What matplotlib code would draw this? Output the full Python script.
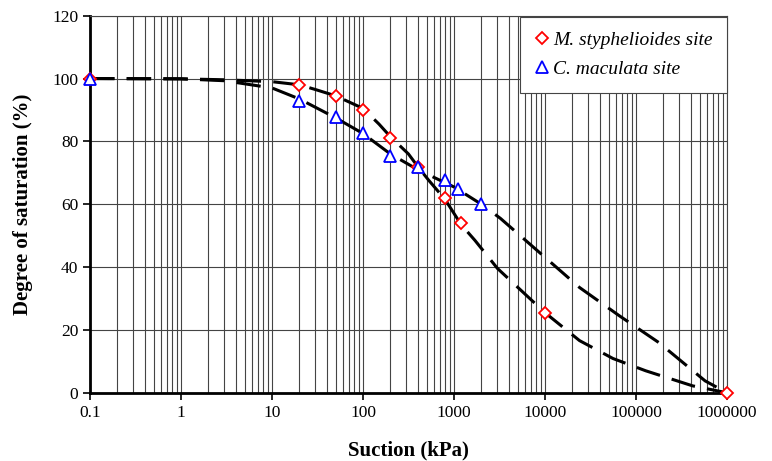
import numpy as np
import matplotlib.pyplot as plt
from matplotlib.ticker import LogLocator, FixedLocator, NullFormatter

plt.rcParams['font.family'] = ['Liberation Serif', 'DejaVu Serif']

# Measured points
m_suction = [0.1, 20, 50, 100, 200, 400, 800, 1200, 10000, 1000000]
m_sat = [100, 98, 94.5, 90, 81, 72, 62, 54, 25.5, 0]
c_suction = [0.1, 20, 50, 100, 200, 400, 800, 1100, 2000]
c_sat = [100, 93, 87.8, 82.7, 75.3, 72, 67.7, 65, 60]

# Fitted curves (dashed)
m_fit_x = [0.1, 1, 3, 10, 20, 30, 50, 100, 150, 200, 316, 400, 525, 800, 1200,
           1700, 3000, 10000, 24000, 56000, 128000, 420000, 1000000]
m_fit_y = [100, 99.9, 99.6, 99, 98, 96.5, 94.5, 90.5, 85.5, 81.5, 76, 72, 67.7,
           61.5, 53.5, 48.5, 39.6, 25.5, 16.6, 10.9, 7, 2.2, 0]
c_fit_x = [0.1, 1, 3, 10, 20, 50, 100, 200, 400, 1000, 2000, 3240, 8900, 24000,
           65000, 178000, 575000, 1000000]
c_fit_y = [100, 99.9, 99.3, 97, 93.5, 87.5, 82.5, 76, 71, 65.5, 60, 55.5, 44.4,
           33.5, 24.6, 16, 3.8, 0]

fig = plt.figure(figsize=(7.72, 4.61), dpi=100)
ax = fig.add_axes([0.1166, 0.148, 0.825, 0.818])

ax.plot(m_fit_x, m_fit_y, color='black', lw=2.2, dashes=(8, 4), zorder=3)
ax.plot(c_fit_x, c_fit_y, color='black', lw=2.2, dashes=(8, 4), zorder=3)

ax.plot(m_suction, m_sat, linestyle='none', marker='D', markersize=6.5,
        markerfacecolor='white', markeredgecolor='red', markeredgewidth=1.3,
        label='M. styphelioides site', clip_on=False, zorder=4)
ax.plot(c_suction, c_sat, linestyle='none', marker='^', markersize=9,
        markerfacecolor='white', markeredgecolor='blue', markeredgewidth=1.3,
        label='C. maculata site', clip_on=False, zorder=5)

ax.set_xscale('log')
ax.set_xlim(0.1, 1000000)
ax.set_ylim(0, 120)

xticks = [0.1, 1, 10, 100, 1000, 10000, 100000, 1000000]
xlabels = ['0.1', '1', '10', '100', '1000', '10000', '100000', '1000000']
ax.xaxis.set_major_locator(FixedLocator(xticks))
ax.set_xticklabels(xlabels)
ax.xaxis.set_minor_locator(LogLocator(base=10, subs=np.arange(2, 10)))
ax.xaxis.set_minor_formatter(NullFormatter())
ax.set_yticks(np.arange(0, 121, 20))

ax.grid(True, which='both', axis='x', color='#444444', lw=0.8)
ax.grid(True, which='major', axis='y', color='#444444', lw=0.8)
ax.set_axisbelow(True)
ax.tick_params(axis='x', which='minor', length=0)
ax.tick_params(axis='both', which='major', direction='out', length=5,
               width=1.2, labelsize=12.5, colors='black')

for side in ['left', 'bottom']:
    ax.spines[side].set_linewidth(2)
for side in ['top', 'right']:
    ax.spines[side].set_linewidth(0.8)
    ax.spines[side].set_color('#444444')

ax.set_xlabel('Suction (kPa)', fontsize=15, fontweight='bold', labelpad=14)
ax.set_ylabel('Degree of saturation (%)', fontsize=15, fontweight='bold', labelpad=14)

leg = ax.legend(loc='upper right', bbox_to_anchor=(1.0, 0.997), borderaxespad=0,
                frameon=True, fancybox=False, edgecolor='#444444', framealpha=1,
                prop={'style': 'italic', 'size': 14}, handletextpad=0.15,
                handlelength=0.8, borderpad=0.75, labelspacing=0.6)
leg.get_frame().set_linewidth(0.8)
leg.set_zorder(10)

fig.savefig('out.png', dpi=100)
